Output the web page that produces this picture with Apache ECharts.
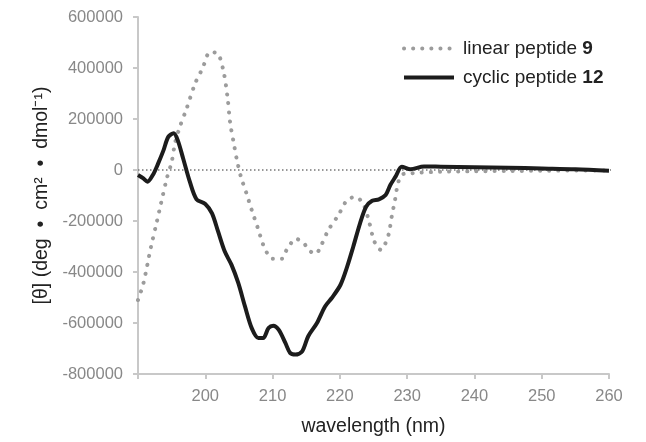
<!DOCTYPE html>
<html>
<head>
<meta charset="utf-8">
<script src="https://cdn.jsdelivr.net/npm/echarts@6/dist/echarts.min.js"></script>
<style>
  html, body { margin: 0; padding: 0; background: #fff; }
  #chart { width: 646px; height: 442px; }
</style>
</head>
<body>
<div id="chart"></div>
<script>
// CD spectra: mean residue ellipticity vs wavelength
const linearWavelength = [190.0, 190.8, 191.9, 192.8, 193.4, 194.3, 195.0, 195.5, 196.2, 197.2, 198.5, 199.6, 200.7, 201.8, 202.7, 203.3, 203.7, 204.2, 204.7, 205.3, 206.1, 206.9, 207.8, 208.6, 209.2, 210.0, 211.4, 212.1, 213.5, 214.6, 215.5, 216.4, 217.2, 218.3, 219.8, 221.1, 222.3, 223.4, 224.2, 224.9, 225.5, 226.1, 226.8, 227.3, 227.7, 228.2, 228.7, 229.4, 230.6, 231.9, 235, 240, 245, 250, 255, 260];
const linearTheta = [-510000, -445000, -305000, -203000, -133000, -31000, 31000, 105000, 168000, 239000, 340000, 399000, 462000, 458000, 388000, 286000, 184000, 110000, 39000, -27000, -90000, -157000, -227000, -293000, -326000, -348000, -348000, -313000, -270000, -286000, -317000, -329000, -297000, -235000, -176000, -117000, -106000, -129000, -188000, -262000, -301000, -313000, -286000, -247000, -184000, -117000, -46000, -16000, -13000, -10000, -7000, -5000, -4000, -3000, -2000, -2000];

const cyclicWavelength = [190.0, 190.8, 191.4, 192.2, 193.0, 193.8, 194.5, 195.3, 195.9, 196.7, 197.7, 198.7, 200.0, 201.0, 201.9, 202.9, 203.9, 204.9, 205.9, 206.9, 207.9, 208.6, 209.4, 210.1, 210.9, 211.9, 212.6, 213.4, 214.4, 215.3, 216.6, 217.8, 218.8, 220.1, 221.1, 222.0, 223.0, 223.9, 224.8, 225.8, 226.8, 227.5, 228.3, 229.2, 230.5, 232.5, 235, 240, 245, 250, 255, 260];
const cyclicTheta = [-20000, -33000, -46000, -20000, 26000, 78000, 130000, 144000, 117000, 46000, -46000, -115000, -133000, -170000, -241000, -320000, -372000, -443000, -535000, -620000, -659000, -659000, -620000, -611000, -626000, -678000, -717000, -724000, -711000, -652000, -600000, -535000, -502000, -450000, -378000, -300000, -209000, -144000, -121000, -115000, -98000, -59000, -25000, 13000, 3000, 14000, 13000, 11000, 9000, 6000, 3000, -3000];

const baselineWavelength = [190, 261];
const baselineTheta = [0, 0];

const xTicks = { min: 190, max: 260, step: 10 };
const yTicks = { min: -800000, max: 600000, step: 200000 };

const seriesNames = ['linear peptide 9', 'cyclic peptide 12'];

const pairs = (xs, ys) => xs.map((x, i) => [x, ys[i]]);

const FONT = 'Liberation Sans, Arial, sans-serif';
const GREY = '#9c9c9c';
const BLACK = '#1c1c1c';
const dotted = { color: GREY, width: 4, type: [0.1, 9], cap: 'round' };
const solid = { color: BLACK, width: 4 };

const chart = echarts.init(document.getElementById('chart'), null, { renderer: 'canvas' });

chart.setOption({
  animation: false,
  backgroundColor: '#ffffff',
  grid: { left: 138, right: 37, top: 17, bottom: 68 },
  legend: {
    orient: 'vertical',
    left: 402,
    top: 39,
    padding: 0,
    itemWidth: 50,
    itemHeight: 14,
    itemGap: 10,
    itemStyle: { opacity: 0 },
    data: [
      { name: seriesNames[0], lineStyle: dotted },
      { name: seriesNames[1], lineStyle: solid }
    ],
    textStyle: {
      fontFamily: FONT,
      fontSize: 19,
      color: '#222',
      padding: [0, 0, 0, 4],
      rich: {
        n: { fontFamily: FONT, fontSize: 19, color: '#222' },
        b: { fontFamily: FONT, fontSize: 19, color: '#222', fontWeight: 'bold' }
      }
    },
    formatter: (name) => {
      const i = name.lastIndexOf(' ');
      return '{n|' + name.slice(0, i + 1) + '}{b|' + name.slice(i + 1) + '}';
    }
  },
  xAxis: {
    type: 'value',
    min: xTicks.min,
    max: xTicks.max,
    interval: xTicks.step,
    name: 'wavelength (nm)',
    nameLocation: 'middle',
    nameGap: 43,
    nameTextStyle: { fontFamily: FONT, fontSize: 19.5, color: '#222' },
    axisLine: { onZero: false, lineStyle: { color: '#c8c8c8', width: 2 } },
    axisTick: { show: true, length: 5, lineStyle: { color: '#c8c8c8', width: 2 } },
    axisLabel: {
      fontFamily: FONT, fontSize: 16.5, color: '#888', margin: 14,
      formatter: (v) => (v === xTicks.min ? '' : String(v))
    },
    splitLine: { show: false }
  },
  yAxis: {
    type: 'value',
    min: yTicks.min,
    max: yTicks.max,
    interval: yTicks.step,
    name: '[θ] (deg  •  cm²  •  dmol⁻¹)',
    nameLocation: 'middle',
    nameGap: 80,
    nameTextStyle: {
      fontFamily: FONT, fontSize: 19.5, color: '#222'
    },
    axisLine: { show: true, lineStyle: { color: '#c8c8c8', width: 2 } },
    axisTick: { show: true, length: 5, lineStyle: { color: '#c8c8c8', width: 2 } },
    axisLabel: {
      fontFamily: FONT, fontSize: 16.5, color: '#888', margin: 15,
      formatter: (v) => String(v)
    },
    splitLine: { show: false }
  },
  series: [
    {
      name: 'zero',
      type: 'line',
      data: pairs(baselineWavelength, baselineTheta),
      symbol: 'none',
      clip: false,
      silent: true,
      lineStyle: { color: '#777', width: 1.5, type: [1.5, 2.5] },
      z: 1
    },
    {
      name: seriesNames[0],
      type: 'line',
      data: pairs(linearWavelength, linearTheta),
      symbol: 'none',
      smooth: 0.3,
      color: GREY,
      lineStyle: dotted,
      z: 2
    },
    {
      name: seriesNames[1],
      type: 'line',
      data: pairs(cyclicWavelength, cyclicTheta),
      symbol: 'none',
      smooth: 0.3,
      color: BLACK,
      lineStyle: solid,
      z: 3
    }
  ]
});
</script>
</body>
</html>
